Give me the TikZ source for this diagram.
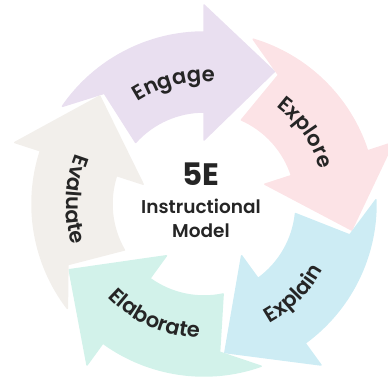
\documentclass[tikz,border=0pt]{standalone}
\usepackage{fontspec}
\setmainfont{Poppins}
\newfontfamily\labelfont{Poppins SemiBold}
\usetikzlibrary{decorations.text}

\definecolor{engagecol}{HTML}{E9DFF0}
\definecolor{explorecol}{HTML}{FCE3E6}
\definecolor{explaincol}{HTML}{CDECF4}
\definecolor{elaboratecol}{HTML}{D2F2EA}
\definecolor{evaluatecol}{HTML}{F2EFEB}
\definecolor{inkcol}{HTML}{252525}

\begin{document}
\begin{tikzpicture}[x=1pt,y=1pt,
  phasebox/.style={fill=#1, draw=#1, line width=1.5pt, line join=round},
  centertext/.style={anchor=base, inner sep=0pt, text=inkcol},
  arclabel/.style={decorate, decoration={text along path, text align=center,
      text color=inkcol, text={|\labelfont\fontsize{21}{21}\selectfont|#1}}}]
\useasboundingbox (-204,-175) rectangle (184,204);

% five curved arrows, each with a notched tail and a head at its clockwise end
\foreach \b/\c in {90/engagecol, 18/explorecol, -54/explaincol, -126/elaboratecol, 162/evaluatecol}{
  \pgfmathsetmacro\p{\b+72}
  \path[phasebox=\c]
    ({\p-16.6}:172) arc[start angle={\p-16.6}, end angle=\b, radius=172pt]
    -- (\b:199) -- ({\b-28}:150) -- (\b:64) -- (\b:92)
    arc[start angle=\b, end angle={\p-24}, radius=92pt]
    -- ({\p-30}:149) -- cycle;
}

% phase names following the ring
\path[arclabel=Engage]    (144:122) arc[start angle=144, end angle=64, radius=122pt];
\path[arclabel=Explore]   (75:121) arc[start angle=75, end angle=-5, radius=121pt];
\path[arclabel=Explain]   (-85:136) arc[start angle=-85, end angle=-5, radius=136pt];
\path[arclabel=Elaborate] (-154:134) arc[start angle=-154, end angle=-74, radius=134pt];
\path[arclabel=Evaluate]  (138:138) arc[start angle=138, end angle=218, radius=138pt];

% centre title
\node[centertext, font=\bfseries\fontsize{31}{31}\selectfont] (title) at (-3,18) {5E};
\node[centertext, font=\labelfont\fontsize{18.5}{18.5}\selectfont] (line1) at (-3,-10) {Instructional};
\node[centertext, font=\labelfont\fontsize{18.5}{18.5}\selectfont] (line2) at (-3,-34) {Model};
\end{tikzpicture}
\end{document}
